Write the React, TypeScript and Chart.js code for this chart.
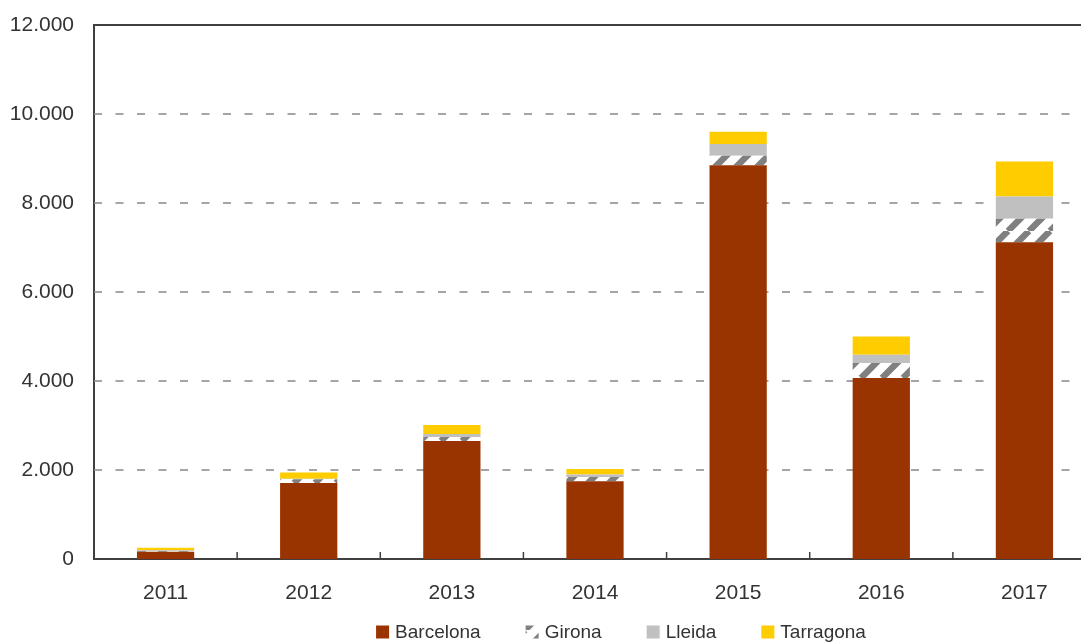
import React, { useEffect, useRef } from 'react';
import { Chart, registerables } from 'chart.js';

Chart.register(...registerables);

const years = ['2011', '2012', '2013', '2014', '2015', '2016', '2017'];
const barcelona = [165, 1710, 2650, 1750, 8850, 4070, 7120];
const girona = [15, 80, 90, 90, 210, 335, 525];
const lleida = [15, 15, 70, 60, 265, 185, 500];
const tarragona = [60, 140, 200, 120, 275, 410, 785];
const yTickLabels = ['0', '2.000', '4.000', '6.000', '8.000', '10.000', '12.000'];
const seriesNames = ['Barcelona', 'Girona', 'Lleida', 'Tarragona'];

const FONT = '"Liberation Sans", Arial, sans-serif';
const TEXT = '#333333';
const AXIS = '#404040';
const BROWN = '#993300';
const GREY = '#C0C0C0';
const YELLOW = '#FFCC00';

function makePattern(ctx: CanvasRenderingContext2D): CanvasPattern | string {
  const s = 21;
  const c = document.createElement('canvas');
  c.width = s;
  c.height = s;
  const p = c.getContext('2d');
  if (!p) return '#ffffff';
  p.fillStyle = '#ffffff';
  p.fillRect(0, 0, s, s);
  p.strokeStyle = '#808080';
  p.lineWidth = 6.5;
  p.beginPath();
  for (const o of [-s, 0, s]) {
    p.moveTo(o, s);
    p.lineTo(o + s, 0);
  }
  p.stroke();
  return ctx.createPattern(c, 'repeat') || '#808080';
}

export default function App() {
  const ref = useRef<HTMLCanvasElement | null>(null);

  useEffect(() => {
    const canvas = ref.current;
    if (!canvas) return;
    const ctx = canvas.getContext('2d');
    if (!ctx) return;
    const pattern = makePattern(ctx);
    const fills: (string | CanvasPattern)[] = [BROWN, pattern, GREY, YELLOW];

    const decor = {
      id: 'decor',
      beforeDatasetsDraw(chart: any) {
        const c = chart.ctx;
        const { left, right, top } = chart.chartArea;
        const y = chart.scales.y;
        c.save();
        c.strokeStyle = '#888888';
        c.lineWidth = 1.6;
        c.setLineDash([8, 13.5]);
        for (let v = 2000; v < 12000; v += 2000) {
          const py = Math.round(y.getPixelForValue(v));
          c.beginPath();
          c.moveTo(left, py);
          c.lineTo(right, py);
          c.stroke();
        }
        c.setLineDash([]);
        c.strokeStyle = AXIS;
        c.lineWidth = 2;
        c.beginPath();
        c.moveTo(left - 1, top);
        c.lineTo(right, top);
        c.stroke();
        c.restore();
      },
      afterDraw(chart: any) {
        const c = chart.ctx;
        const { bottom } = chart.chartArea;
        const x = chart.scales.x;
        c.save();
        c.strokeStyle = AXIS;
        c.lineWidth = 1.5;
        for (let i = 1; i < years.length; i++) {
          const px = (x.getPixelForValue(i - 1) + x.getPixelForValue(i)) / 2;
          c.beginPath();
          c.moveTo(px, bottom);
          c.lineTo(px, bottom - 7);
          c.stroke();
        }
        // legend
        c.font = '19px ' + FONT;
        c.textBaseline = 'middle';
        c.textAlign = 'left';
        const box = 13;
        const gap = 6;
        const spacing = 45;
        const widths = seriesNames.map((n) => c.measureText(n).width);
        const total =
          widths.reduce((a, w) => a + box + gap + w, 0) + spacing * (seriesNames.length - 1);
        const legendCenterX = 621;
        const ly = 632;
        let lx = legendCenterX - total / 2;
        seriesNames.forEach((n, i) => {
          c.fillStyle = fills[i] as any;
          c.fillRect(lx, ly - box / 2, box, box);
          c.fillStyle = TEXT;
          c.fillText(n, lx + box + gap, ly + 1);
          lx += box + gap + widths[i] + spacing;
        });
        c.restore();
      },
    };

    const series = [barcelona, girona, lleida, tarragona];
    const chart = new Chart(canvas, {
      type: 'bar',
      data: {
        labels: years,
        datasets: series.map((d, i) => ({
          label: seriesNames[i],
          data: d,
          backgroundColor: fills[i] as any,
          borderWidth: 0,
          categoryPercentage: 1,
          barPercentage: 0.4,
        })),
      },
      options: {
        animation: false,
        responsive: false,
        maintainAspectRatio: false,
        layout: { padding: { top: 25, right: 4, bottom: 40, left: 0 } },
        plugins: {
          legend: { display: false },
          tooltip: { enabled: false },
          title: { display: false },
        },
        scales: {
          x: {
            stacked: true,
            grid: { display: false, drawTicks: false },
            border: { display: true, color: AXIS, width: 2 },
            ticks: {
              font: { family: FONT, size: 21 },
              color: TEXT,
              padding: 22,
              maxRotation: 0,
            },
            afterFit(scale: any) {
              scale.height = 45;
              scale.paddingLeft = 0;
              scale.paddingRight = 0;
            },
          },
          y: {
            stacked: true,
            min: 0,
            max: 12000,
            grid: { display: false, drawTicks: false },
            border: { display: true, color: AXIS, width: 2 },
            ticks: {
              stepSize: 2000,
              font: { family: FONT, size: 21 },
              color: TEXT,
              padding: 20,
              callback: (_v: any, i: number) => yTickLabels[i],
            },
            afterFit(scale: any) {
              scale.width = 94;
              scale.paddingTop = 0;
              scale.paddingBottom = 0;
            },
          },
        },
      },
      plugins: [decor],
    } as any);

    return () => chart.destroy();
  }, []);

  return (
    <div
      style={{
        position: 'fixed',
        left: 0,
        top: 0,
        width: 1081,
        height: 644,
        overflow: 'hidden',
        background: '#ffffff',
      }}
    >
      <canvas ref={ref} width={1100} height={644} style={{ display: 'block' }} />
    </div>
  );
}
